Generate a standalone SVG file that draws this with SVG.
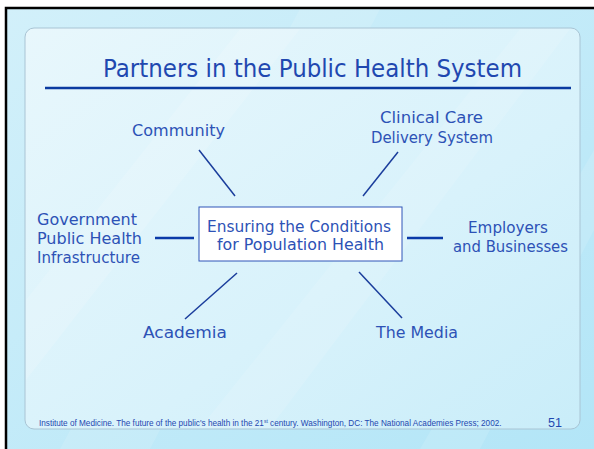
<svg xmlns="http://www.w3.org/2000/svg" width="594" height="449" viewBox="0 0 594 449">
<defs>
<linearGradient id="bg" x1="0" y1="0" x2="1" y2="1">
<stop offset="0" stop-color="#d2f0fa"/>
<stop offset="1" stop-color="#b2e5f7"/>
</linearGradient>
<linearGradient id="panel" x1="0" y1="0" x2="1" y2="1">
<stop offset="0" stop-color="#e8f7fc"/>
<stop offset="0.6" stop-color="#d8f2fb"/>
<stop offset="1" stop-color="#c9edf9"/>
</linearGradient>
<style>
.t{font-family:"DejaVu Sans","Liberation Sans",sans-serif;fill:#2d52b6;font-size:15.5px}
.c{text-anchor:middle}
.ln{stroke:#1a3d9c;stroke-width:1.5;fill:none}
.lh{stroke:#0a3aa8;stroke-width:2.5;fill:none}
.f{font-family:"Liberation Sans",Arial,sans-serif;fill:#1f48b0}
</style>
</defs>
<rect x="0" y="0" width="594" height="449" fill="#ffffff"/>
<rect x="6" y="8" width="600" height="450" fill="url(#bg)" stroke="#000" stroke-width="2.5"/>
<polygon points="60,449 300,9 380,9 150,449" fill="#ffffff" opacity="0.12"/>
<polygon points="420,449 594,150 594,230 480,449" fill="#ffffff" opacity="0.12"/>
<rect x="25" y="28" width="555" height="401" rx="9" fill="url(#panel)" stroke="#a9c4d4" stroke-width="1"/>
<polygon points="26,300 240,29 300,29 26,380" fill="#ffffff" opacity="0.15"/>
<polygon points="200,428 520,29 570,29 270,428" fill="#ffffff" opacity="0.12"/>
<g id="title">
<text class="t" x="103" y="77" textLength="419" lengthAdjust="spacingAndGlyphs" style="font-size:24px;fill:#1f48b0">Partners in the Public Health System</text>
<line x1="45" y1="88" x2="571" y2="88" stroke="#0a3aa0" stroke-width="2.5"/>
</g>
<g id="connectors">
<line class="ln" x1="199" y1="150" x2="235" y2="196"/>
<line class="ln" x1="398" y1="152" x2="363" y2="196"/>
<line class="lh" x1="155" y1="238" x2="194" y2="238"/>
<line class="lh" x1="407" y1="238" x2="443" y2="238"/>
<line class="ln" x1="237" y1="273" x2="185" y2="319"/>
<line class="ln" x1="359" y1="272" x2="402" y2="318"/>
</g>
<g id="center">
<rect x="199" y="207" width="203" height="54" fill="#ffffff" stroke="#2f55b8" stroke-width="1"/>
<text class="t" x="207" y="232" textLength="184" lengthAdjust="spacingAndGlyphs">Ensuring the Conditions</text>
<text class="t" x="217" y="250" textLength="167" lengthAdjust="spacingAndGlyphs">for Population Health</text>
</g>
<g id="community"><text class="t" x="132" y="136" textLength="93" lengthAdjust="spacingAndGlyphs">Community</text></g>
<g id="clinical"><text class="t" x="380" y="123" textLength="103" lengthAdjust="spacingAndGlyphs">Clinical Care</text><text class="t" x="371" y="143" textLength="122" lengthAdjust="spacingAndGlyphs">Delivery System</text></g>
<g id="government"><text class="t" x="37" y="225" textLength="100" lengthAdjust="spacingAndGlyphs">Government</text><text class="t" x="37" y="244" textLength="105" lengthAdjust="spacingAndGlyphs">Public Health</text><text class="t" x="37" y="263" textLength="103" lengthAdjust="spacingAndGlyphs">Infrastructure</text></g>
<g id="employers"><text class="t" x="468" y="233" textLength="80" lengthAdjust="spacingAndGlyphs">Employers</text><text class="t" x="453" y="252" textLength="115" lengthAdjust="spacingAndGlyphs">and Businesses</text></g>
<g id="academia"><text class="t" x="143" y="338" textLength="84" lengthAdjust="spacingAndGlyphs">Academia</text></g>
<g id="media"><text class="t" x="376" y="338" textLength="82" lengthAdjust="spacingAndGlyphs">The Media</text></g>
<g id="footer">
<text class="f" x="39" y="426" style="font-size:8.2px">Institute of Medicine. The future of the public's health in the 21<tspan dy="-3" style="font-size:5px">st</tspan><tspan dy="3"> century. Washington, DC: The National Academies Press; 2002.</tspan></text>
<text class="f" x="548" y="427" textLength="14" lengthAdjust="spacingAndGlyphs" style="font-size:12px">51</text>
</g>
</svg>
